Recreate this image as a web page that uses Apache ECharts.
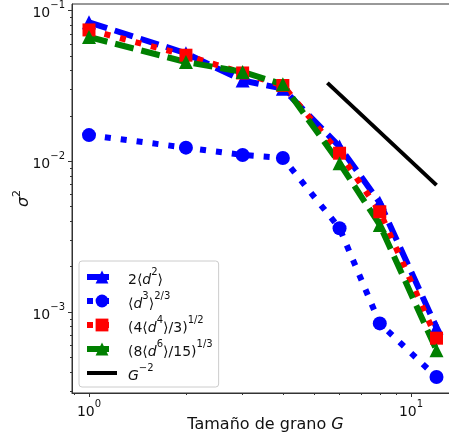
<!DOCTYPE html>
<html>
<head>
<meta charset="utf-8">
<script src="https://cdn.jsdelivr.net/npm/echarts@6/dist/echarts.min.js"></script>
<style>
  html, body { margin: 0; padding: 0; background: #ffffff; }
  #chart { width: 449px; height: 441px; }
</style>
</head>
<body>
<div id="chart"></div>
<script>
// Grain sizes G and the variance estimators sigma^2 for each moment
const grainSizes = [1, 2, 3, 4, 6, 8, 12];
const sigmaFromD2 = [0.0835, 0.052, 0.0343, 0.0303, 0.0125, 0.0053, 0.00079];
const sigmaFromD3 = [0.0149, 0.0123, 0.0110, 0.0105, 0.00359, 0.00084, 0.00037];
const sigmaFromD4 = [0.0743, 0.0505, 0.0385, 0.0318, 0.0113, 0.00462, 0.00067];
const sigmaFromD6 = [0.0667, 0.0455, 0.0391, 0.0324, 0.0097, 0.00378, 0.000557];

// Reference power law G^-2
const powerLawG = [5.5, 12];
const powerLawSigma = [0.0331, 0.00694];

// Tick positions of the log axes
const xMajorTicks = [1, 10];
const xMinorTicks = [0.9, 2, 3, 4, 5, 6, 7, 8, 9];
const yMajorTicks = [0.001, 0.01, 0.1];
const yMinorTicks = [0.0003, 0.0004, 0.0005, 0.0006, 0.0007, 0.0008, 0.0009,
                     0.002, 0.003, 0.004, 0.005, 0.006, 0.007, 0.008, 0.009,
                     0.02, 0.03, 0.04, 0.05, 0.06, 0.07, 0.08, 0.09];

// Legend labels (rich text)
const legendLabels = {
  d2: '{sp|}{n|2\u27E8}{i|d}{s|2}{n|\u27E9}',
  d3: '{sp|}{n|\u27E8}{i|d}{s|3}{n|\u27E9}{s|2/3}',
  d4: '{sp|}{n|(4\u27E8}{i|d}{s|4}{n|\u27E9/3)}{s|1/2}',
  d6: '{sp|}{n|(8\u27E8}{i|d}{s|6}{n|\u27E9/15)}{s|1/3}',
  g2: '{sp|}{i|G}{s|\u22122}'
};

const FONT = 'DejaVu Sans';
const AXIS_COLOR = '#333';
const X_MIN = 0.8856, X_MAX = 13.6;
const Y_MIN = 0.000290, Y_MAX = 0.1104;
const DASHED = [19, 8];
const DOTTED = [6, 10];

function pairs(xs, ys) { return xs.map((x, i) => [x, ys[i]]); }

function powerLabel(v) {
  const e = Math.round(Math.log10(v));
  return '{b|10}{s|' + (e < 0 ? '\u2212' + (-e) : String(e)) + '}';
}

const tickRich = {
  b: { fontFamily: FONT, fontSize: 14, lineHeight: 20, color: '#111', verticalAlign: 'bottom' },
  s: { fontFamily: FONT, fontSize: 10, lineHeight: 14, color: '#111', verticalAlign: 'top' }
};

const textRich = {
  sp: { width: 6 },
  n: { fontFamily: FONT, fontSize: 14, lineHeight: 20, color: '#111', verticalAlign: 'bottom' },
  i: { fontFamily: FONT, fontSize: 14, fontStyle: 'italic', lineHeight: 20, color: '#111', verticalAlign: 'bottom' },
  s: { fontFamily: FONT, fontSize: 10, lineHeight: 14, color: '#111', verticalAlign: 'top' }
};

function lineSeries(name, data, color, dash, width, symbol, size) {
  return {
    name: name,
    type: 'line',
    data: data,
    xAxisIndex: 0,
    yAxisIndex: 0,
    color: color,
    symbol: symbol,
    symbolSize: size,
    showAllSymbol: true,
    itemStyle: { color: color },
    lineStyle: { color: color, width: width, type: dash, cap: 'butt' },
    emphasis: { disabled: true },
    clip: false
  };
}

const chart = echarts.init(document.getElementById('chart'), null, { renderer: 'canvas' });

chart.setOption({
  animation: false,
  backgroundColor: '#ffffff',
  grid: {
    left: 72, right: -5, top: 4, bottom: 48,
    containLabel: false, outerBoundsMode: 'none',
    show: true, borderColor: AXIS_COLOR, borderWidth: 1, backgroundColor: 'transparent'
  },
  xAxis: [
    {
      type: 'log', logBase: 10, min: X_MIN, max: X_MAX, position: 'bottom',
      axisLine: { show: true, lineStyle: { color: AXIS_COLOR, width: 1 } },
      axisTick: { show: true, length: 4, customValues: xMajorTicks, lineStyle: { color: AXIS_COLOR } },
      axisLabel: { show: true, customValues: xMajorTicks, formatter: powerLabel, rich: tickRich, margin: 6 },
      splitLine: { show: false },
      name: '{n|Tama\u00F1o de grano }{i|G}',
      nameLocation: 'middle', nameGap: 22, nameMoveOverlap: false,
      nameTextStyle: { rich: {
        n: { fontFamily: FONT, fontSize: 16, lineHeight: 20, color: '#111' },
        i: { fontFamily: FONT, fontSize: 16, fontStyle: 'italic', lineHeight: 20, color: '#111' }
      }, padding: [0, 0, 0, 5] }
    },
    {
      type: 'log', logBase: 10, min: X_MIN, max: X_MAX, position: 'bottom',
      axisLine: { show: false },
      axisTick: { show: true, length: 2, customValues: xMinorTicks, lineStyle: { color: AXIS_COLOR } },
      axisLabel: { show: false },
      splitLine: { show: false }
    }
  ],
  yAxis: [
    {
      type: 'log', logBase: 10, min: Y_MIN, max: Y_MAX, position: 'left',
      axisLine: { show: true, lineStyle: { color: AXIS_COLOR, width: 1 } },
      axisTick: { show: true, length: 4, customValues: yMajorTicks, lineStyle: { color: AXIS_COLOR } },
      axisLabel: { show: true, customValues: yMajorTicks, formatter: powerLabel, rich: tickRich, margin: 7 },
      splitLine: { show: false },
      name: '{i|\u03C3}{s|2}',
      nameLocation: 'middle', nameGap: 40, nameRotate: 90, nameMoveOverlap: false,
      nameTextStyle: { rich: {
        i: { fontFamily: FONT, fontSize: 16, fontStyle: 'italic', lineHeight: 20, color: '#111', verticalAlign: 'bottom' },
        s: { fontFamily: FONT, fontSize: 11, lineHeight: 14, color: '#111', verticalAlign: 'top' }
      } }
    },
    {
      type: 'log', logBase: 10, min: Y_MIN, max: Y_MAX, position: 'left',
      axisLine: { show: false },
      axisTick: { show: true, length: 2, customValues: yMinorTicks, lineStyle: { color: AXIS_COLOR } },
      axisLabel: { show: false },
      splitLine: { show: false }
    }
  ],
  legend: {
    orient: 'vertical',
    left: 79, top: 261,
    padding: [6, 6, 4, 5],
    itemGap: 4,
    itemWidth: 30,
    itemHeight: 16,
    backgroundColor: 'rgba(255,255,255,0.8)',
    borderColor: '#cccccc',
    borderWidth: 1,
    borderRadius: 3,
    data: [
      { name: 'd2', lineStyle: { type: [22, 8], width: 6, cap: 'butt' } },
      { name: 'd3', lineStyle: { type: DOTTED, width: 6, cap: 'butt' } },
      { name: 'd4', lineStyle: { type: DOTTED, width: 6, cap: 'butt' } },
      { name: 'd6', lineStyle: { type: [22, 8], width: 6, cap: 'butt' } },
      { name: 'g2', lineStyle: { type: 'solid', width: 4, cap: 'butt' }, itemStyle: { opacity: 0 } }
    ],
    formatter: name => legendLabels[name],
    textStyle: { rich: textRich }
  },
  series: [
    lineSeries('d2', pairs(grainSizes, sigmaFromD2), '#0000ff', DASHED, 6, 'triangle', 14),
    lineSeries('d3', pairs(grainSizes, sigmaFromD3), '#0000ff', DOTTED, 6, 'circle', 14),
    lineSeries('d4', pairs(grainSizes, sigmaFromD4), '#ff0000', DOTTED, 6, 'rect', 13),
    lineSeries('d6', pairs(grainSizes, sigmaFromD6), '#008000', DASHED, 6, 'triangle', 14),
    lineSeries('g2', pairs(powerLawG, powerLawSigma), '#000000', 'solid', 4, 'none', 0)
  ]
});
</script>
</body>
</html>
